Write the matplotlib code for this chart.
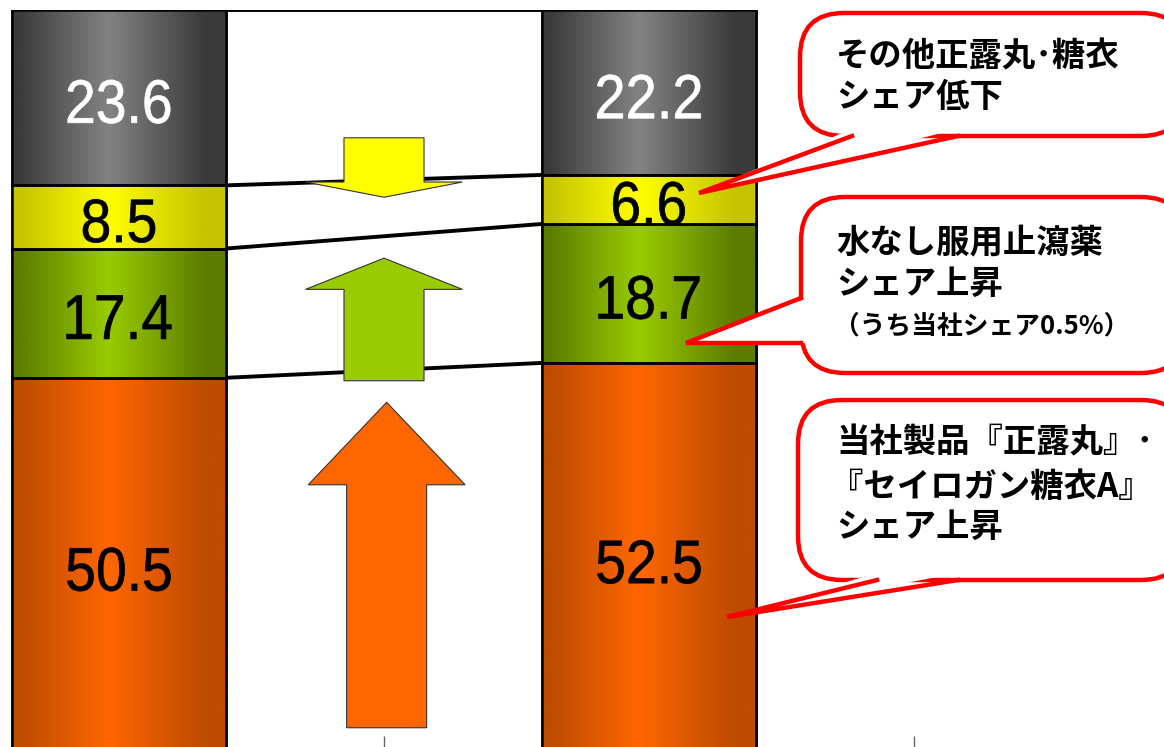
import numpy as np
import matplotlib
matplotlib.use("Agg")
import matplotlib.pyplot as plt
import matplotlib.transforms as mtransforms
from matplotlib.patches import Polygon, FancyBboxPatch, PathPatch
from matplotlib.textpath import TextPath
from matplotlib.font_manager import FontProperties
from matplotlib.colors import to_rgb

plt.rcParams['font.family'] = ['Noto Sans CJK JP', 'DejaVu Sans']

# market share (%) for the two periods, bottom to top
share_own = [50.5, 52.5]        # 当社製品『正露丸』・『セイロガン糖衣A』
share_mizunashi = [17.4, 18.7]  # 水なし服用止瀉薬
share_toui = [8.5, 6.6]         # 糖衣
share_other = [23.6, 22.2]      # その他正露丸・糖衣
series = [share_own, share_mizunashi, share_toui, share_other]

# (edge colour, centre colour) of the horizontal gradient
seg_colors = [('#bd4b00', '#ff6600'),
              ('#5c7c00', '#99cc00'),
              ('#c4c400', '#ffff00'),
              ('#3a3a3a', '#838383')]
label_colors = ['black', 'black', 'black', 'white']

W, H = 1164, 747
fig = plt.figure(figsize=(W / 100, H / 100), dpi=100)
ax = fig.add_axes([-146 / W, -6 / H, 1060 / W, 743 / H])

width = 0.405
x = np.arange(2)

num_font = FontProperties(family='Liberation Sans')


def gradient(c_edge, c_mid, n=200):
    t = np.linspace(0, 1, n)
    w = np.where(t < 0.45, 1 - (0.45 - t) / 0.42, 1 - (t - 0.45) / 0.45)
    w = np.clip(w, 0, 1)
    e, m = np.array(to_rgb(c_edge)), np.array(to_rgb(c_mid))
    return (e[None, :] + (m - e)[None, :] * w[:, None])[None, :, :]


def narrow_label(ax, xd, yd, s, color, height_px=43.5, squeeze=0.9, drop_px=4):
    # condensed number label drawn as a path, centred on (xd, yd)
    tp = TextPath((0, 0), s, size=100, prop=num_font)
    bb = tp.get_extents()
    k = height_px / bb.height
    tr = (mtransforms.Affine2D()
          .translate(-(bb.x0 + bb.width / 2), -(bb.y0 + bb.height / 2))
          .scale(k * squeeze, k)
          .translate(0, -drop_px)
          + mtransforms.ScaledTranslation(xd, yd, ax.transData))
    ax.add_artist(PathPatch(tp, transform=tr, fc=color, ec=color, lw=0.5, zorder=6))


bottom = np.zeros(2)
tops = []
for vals, (ce, cm), lc in zip(series, seg_colors, label_colors):
    vals = np.array(vals)
    bars = ax.bar(x, vals, width, bottom=bottom, color=cm, edgecolor='black',
                  linewidth=1.8, zorder=2)
    img = gradient(ce, cm)
    for b in bars:
        im = ax.imshow(img, extent=[b.get_x(), b.get_x() + b.get_width(),
                                    b.get_y(), b.get_y() + b.get_height()],
                       aspect='auto', zorder=2.1, interpolation='bilinear')
        im.set_clip_path(b)
        # redraw outline on top of the gradient
        ax.add_patch(plt.Rectangle((b.get_x(), b.get_y()), b.get_width(), b.get_height(),
                                   fill=False, ec='black', lw=1.8, zorder=2.2))
    for xi, v, b0 in zip(x, vals, bottom):
        narrow_label(ax, xi, b0 + v / 2, f'{v:.1f}', lc)
    bottom = bottom + vals
    tops.append(bottom.copy())

# series lines between the bars
for t in tops:
    ax.plot([width / 2, 1 - width / 2], t, color='black', lw=2.8, zorder=3,
            solid_capstyle='butt')


def block_arrow(ax, xc, y_tail, y_base, y_tip, color):
    sw, hw = 0.0755, 0.148
    pts = [(xc - sw, y_tail), (xc - sw, y_base), (xc - hw, y_base), (xc, y_tip),
           (xc + hw, y_base), (xc + sw, y_base), (xc + sw, y_tail)]
    ax.add_patch(Polygon(pts, closed=True, fc=color, ec='#333333', lw=0.8, zorder=4))


block_arrow(ax, 0.5, 82.8, 76.85, 74.8, '#ffff00')
block_arrow(ax, 0.5, 50.1, 62.4, 66.6, '#99cc00')
block_arrow(ax, 0.505, 3.4, 36.1, 47.2, '#ff6600')

ax.set_xlim(-0.5, 1.5)
ax.set_ylim(0, 100)
ax.set_xticks([0.5, 1.5])
ax.set_xticklabels([])
ax.set_yticks([])
ax.tick_params(axis='x', direction='in', length=12, width=1, color='#666666')
for s in ax.spines.values():
    s.set_visible(False)

# callouts in pixel coordinates
ov = fig.add_axes([0, 0, 1, 1], facecolor='none')
ov.set_xlim(0, W)
ov.set_ylim(H, 0)
ov.axis('off')


def callout(box, b1, b2, tip, inward):
    x0, y0, x1, y1 = box
    ov.add_patch(FancyBboxPatch((x0, y0), x1 - x0, y1 - y0,
                                boxstyle='round,pad=0,rounding_size=44',
                                fc='white', ec='#ff0000', lw=3.2, zorder=5))
    dx, dy = inward
    ov.add_patch(Polygon([(b1[0] + dx, b1[1] + dy), tip, (b2[0] + dx, b2[1] + dy)],
                         closed=True, fc='white', ec='none', zorder=6))
    ov.plot([b1[0], tip[0], b2[0]], [b1[1], tip[1], b2[1]], color='#ff0000', lw=3.2,
            zorder=7, solid_joinstyle='miter')


callout((800, 13, 1185, 136), (852, 136), (958, 136), (699, 193), (0, -7))
callout((801, 197, 1185, 373), (801, 298), (801, 343), (686, 343), (7, 0))
callout((798, 400, 1185, 580), (877, 580), (958, 580), (727, 617), (0, -7))

txt = dict(ha='left', va='center', fontsize=24, fontweight='bold', color='black', zorder=8)
ov.text(836, 57, 'その他正露丸･糖衣', **txt)
ov.text(836, 97, 'シェア低下', **txt)
ov.text(836, 244, '水なし服用止瀉薬', **txt)
ov.text(836, 284, 'シェア上昇', **txt)
ov.text(834, 326, '（うち当社シェア0.5%）', ha='left', va='center', fontsize=18.5,
        fontweight='bold', zorder=8)
ov.text(836, 443, '当社製品『正露丸』･', **txt)
ov.text(830, 487, '『セイロガン糖衣A』', **txt)
ov.text(836, 527, 'シェア上昇', **txt)

fig.savefig('out.png', dpi=100)
